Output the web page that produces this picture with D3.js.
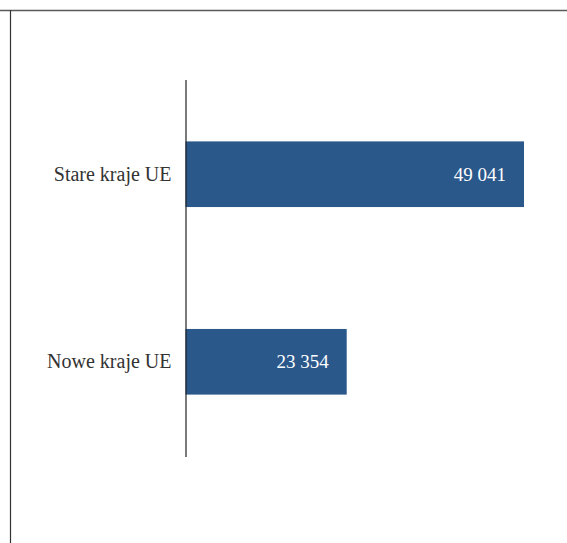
<!DOCTYPE html>
<html><head><meta charset="utf-8">
<script src="https://cdn.jsdelivr.net/npm/d3@7"></script>
<style>html,body{margin:0;padding:0;background:#fff;}svg{display:block;}</style>
</head><body>
<svg id="chart" width="567" height="543"></svg>
<script>
const categories = ["Stare kraje UE", "Nowe kraje UE"];
const values = [49041, 23354];
const valueLabels = ["49 041", "23 354"];

const svg = d3.select("#chart");
const W = 567, H = 543;

// frame lines
svg.append("line").attr("x1", 0).attr("x2", W).attr("y1", 10.5).attr("y2", 10.5)
  .attr("stroke", "#5a5a5a").attr("stroke-width", 1.5);
svg.append("line").attr("x1", 10.5).attr("x2", 10.5).attr("y1", 10).attr("y2", H)
  .attr("stroke", "#333").attr("stroke-width", 1.2);

const x = d3.scaleLinear().domain([0, 55000]).range([185.5, 185.5 + 55000 * 338.5 / 49041]);
const y = d3.scaleBand().domain(categories).range([79.5, 456.5]).paddingInner(0.65).paddingOuter(0.33);

const g = svg.append("g");
g.selectAll("rect.bar").data(values).join("rect").attr("class", "bar")
  .attr("x", x(0)).attr("y", (d, i) => y(categories[i]))
  .attr("width", d => x(d) - x(0)).attr("height", y.bandwidth())
  .attr("fill", "#2b588b");

g.selectAll("text.val").data(values).join("text").attr("class", "val")
  .attr("x", d => x(d) - 18).attr("y", (d, i) => y(categories[i]) + y.bandwidth() / 2)
  .attr("dy", "0.35em").attr("text-anchor", "end")
  .attr("font-family", "Liberation Serif, serif").attr("font-size", 19)
  .attr("fill", "#fff").text((d, i) => valueLabels[i]);

const axis = d3.axisLeft(y).tickSize(0).tickPadding(14);
const ax = svg.append("g").attr("transform", `translate(${x(0)},0)`).call(axis);
ax.select(".domain").attr("stroke", "#222").attr("stroke-width", 1.2);
ax.selectAll("text").attr("font-family", "Liberation Serif, serif").attr("font-size", 20).attr("fill", "#333");
</script>
</body></html>
